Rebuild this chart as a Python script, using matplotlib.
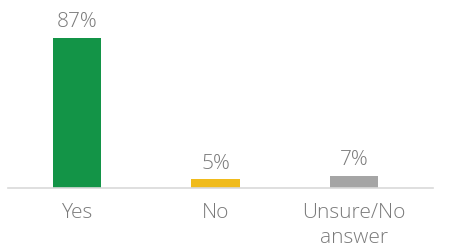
import matplotlib.pyplot as plt

# data
categories = ["Yes", "No", "Unsure/No\nanswer"]
values = [87, 5, 7]
labels = ["87%", "5%", "7%"]
colors = ["#139447", "#f0bb1c", "#a5a5a5"]

plt.rcParams['font.family'] = ['Open Sans', 'DejaVu Sans']
text_color = "#7a7a7a"

fig = plt.figure(figsize=(4.64, 2.47), dpi=100)
ax = fig.add_axes([8 / 464, 59 / 247, 425 / 464, 172.4 / 247])

x = range(len(categories))
ax.bar(x, values, width=0.35, color=colors, zorder=2)

for i, v in enumerate(values):
    ax.annotate(labels[i], (i, v), xytext=(0, 4), textcoords="offset points",
                ha="center", va="bottom", fontsize=15, color=text_color,
                fontweight="light")

ax.set_xlim(-0.5, 2.57)
ax.set_ylim(0, 100)
ax.set_xticks(list(x))
ax.set_xticklabels(categories, fontsize=15, color=text_color, linespacing=1.35,
                   fontweight="light")
ax.tick_params(axis="x", length=0, pad=10.5)
ax.set_yticks([])

for s in ["top", "right", "left"]:
    ax.spines[s].set_visible(False)
ax.spines["bottom"].set_color("#d9d9d9")
ax.spines["bottom"].set_linewidth(1.2)
ax.patch.set_alpha(0)

fig.savefig("out.png", dpi=100)
